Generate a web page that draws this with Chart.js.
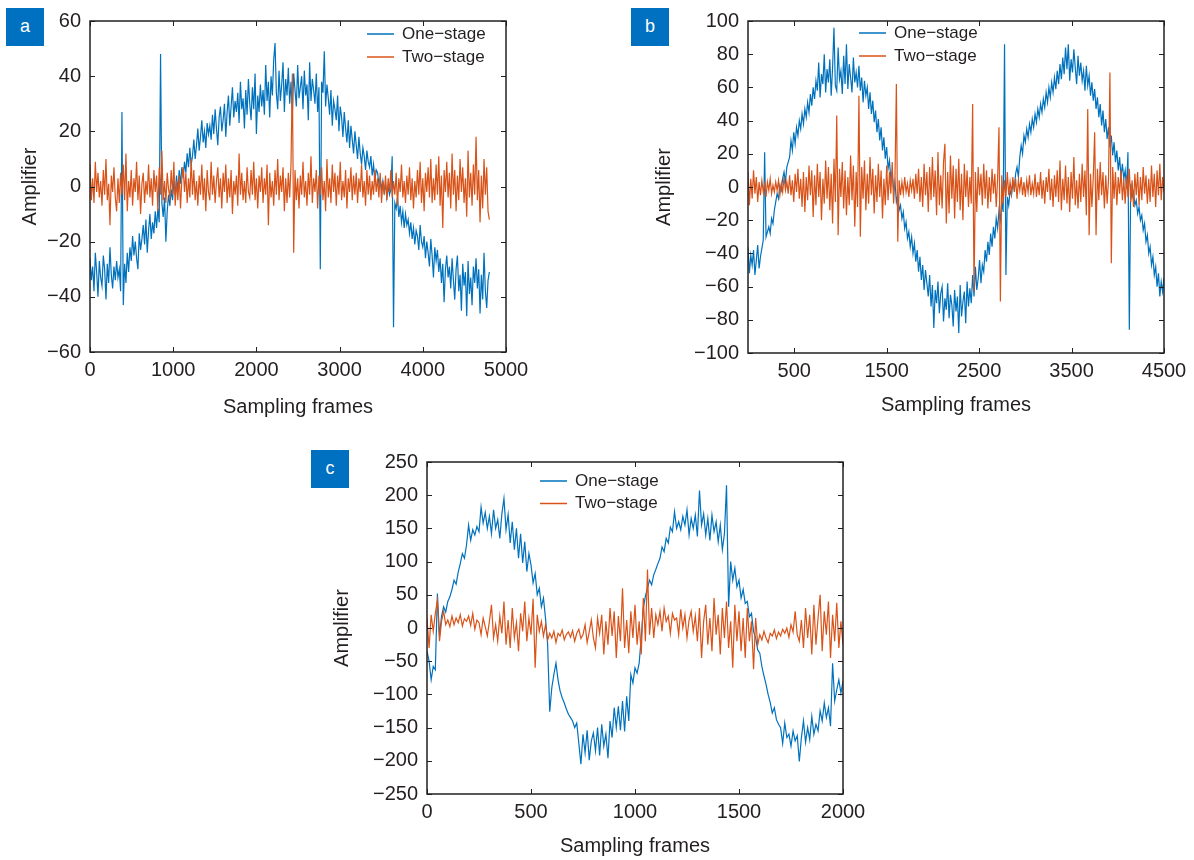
<!DOCTYPE html>
<html>
<head>
<meta charset="utf-8">
<script src="https://cdn.jsdelivr.net/npm/chart.js@4/dist/chart.umd.min.js"></script>
<style>
  html, body { margin:0; padding:0; background:#fff; }
  body { width:1194px; height:860px; position:relative; overflow:hidden; font-family:"Liberation Sans", Arial, sans-serif; }
  canvas { position:absolute; }
  .tag { position:absolute; width:38px; height:38px; background:#0070C0; color:#fff; font-size:18px; line-height:36px; text-align:center; }
</style>
</head>
<body>
<div class="tag" style="left:6px;top:8px;">a</div>
<div class="tag" style="left:631px;top:8px;">b</div>
<div class="tag" style="left:311px;top:450px;">c</div>
<canvas id="ca" width="540" height="430" style="left:0px;top:0px;"></canvas>
<canvas id="cb" width="554" height="430" style="left:640px;top:0px;"></canvas>
<canvas id="cc" width="580" height="420" style="left:300px;top:440px;"></canvas>
<script>
// ---------------- DATA ----------------
const seriesNames = ['One\u2212stage', 'Two\u2212stage'];
const xLabel = 'Sampling frames';
const yLabel = 'Amplifier';

// Panel a (sampling step between stored frames)
const stepA = 16;
const oneStageA = [
 -26,-34,-29,-38,-24,-31,-40,-27,-33,-36,
 -25,-30,-41,-28,-35,-22,-32,-37,-29,-34,
 -27,-33,-30,-38,27,-43,-28,-35,-24,-31,
 -22,-27,-18,-25,-20,-26,-30,-17,-23,-19,
 -14,-21,-12,-24,-16,-10,-19,-13,-17,-9,
 -15,-8,-13,48,-6,-11,-4,-20,-9,-3,
 -7,-1,-5,2,-3,4,-2,6,1,7,
 3,9,5,12,7,14,8,11,17,10,
 15,21,13,18,24,16,20,14,23,19,
 22,17,26,19,28,21,15,25,29,20,
 24,30,18,27,33,22,29,36,25,31,
 27,34,23,38,28,32,21,35,26,39,
 30,24,36,28,41,19,33,27,37,29,
 35,26,44,31,38,25,40,33,46,52,
 34,28,42,31,37,45,27,39,33,43,
 30,38,26,41,35,29,44,32,36,40,
 28,42,33,37,24,45,31,39,35,30,
 41,27,36,-30,38,34,49,29,37,32,
 26,35,22,31,28,24,33,20,29,25,
 18,27,21,16,24,14,22,17,12,20,
 15,10,18,12,8,14,11,6,13,9,
 7,11,4,8,2,6,5,1,3,-1,
 2,-2,1,-4,0,-3,-1,11,-51,-6,
 -8,-4,-11,-7,-13,-9,-15,-10,-14,-12,
 -17,-13,-19,-15,-21,-16,-18,-23,-14,-20,
 -22,-18,-26,-20,-24,-29,-19,-25,-33,-22,
 -27,-23,-31,-26,-35,-28,-42,-30,-25,-33,
 -29,-37,-26,-34,-41,-30,-25,-38,-32,-45,
 -28,-36,-31,-47,-27,-39,-33,-43,-29,-35,
 -26,-37,-30,-46,-32,-41,-24,-38,-44,-34,
 -31
];
const twoStageA = [
 8,-5,3,-6,9,-2,5,-4,2,-7,
 6,-3,10,-5,1,-14,4,-2,7,-4,
 -9,3,-6,5,-3,8,-5,12,-9,2,
 -4,6,-7,3,-2,9,-5,4,-10,1,
 5,-6,2,-3,8,-4,3,-7,6,-2,
 4,-9,7,-3,13,-5,2,-6,5,-1,
 -4,6,-3,9,-7,2,-5,4,-8,3,
 7,-2,5,-6,3,-4,10,-3,6,-5,
 2,-7,4,-3,8,-5,3,-9,6,-2,
 -5,9,-3,4,-6,2,7,-4,3,-8,
 5,-2,8,-6,3,-4,6,-10,2,-3,
 4,-7,12,-3,5,-5,2,-6,7,-2,
 -4,6,-3,9,-5,3,-8,4,-2,7,
 -6,3,-3,8,-14,5,-4,2,-7,6,
 -3,10,-5,4,-2,7,-9,3,-6,5,
 -4,8,41,-24,6,-5,3,-8,4,-3,
 9,-4,2,-7,5,-3,11,-6,3,-2,
 6,-8,4,-3,7,-5,2,-9,10,-4,
 3,-6,8,-2,5,-7,4,-3,9,-5,
 2,-4,6,-8,3,-2,7,-5,4,-3,
 5,-6,3,-2,8,-4,2,-7,6,-3,
 4,-5,2,-3,6,-2,3,-4,5,-6,
 2,-3,4,-5,3,-2,6,-4,2,-3,
 5,-7,3,-2,8,-4,2,-6,4,-3,
 7,-5,3,-8,2,-4,6,-3,9,-6,
 3,-9,5,-2,7,-4,10,-6,3,-5,
 8,-3,11,-7,4,-15,6,-2,9,-4,
 5,-8,12,-3,6,-9,4,-5,10,-2,
 7,-6,3,-11,13,-4,5,-7,8,-3,
 18,-5,6,-13,4,-8,10,-3,7,-9,
 -12
];
const xTicksA = [0,1000,2000,3000,4000,5000];
const yTicksA = [-60,-40,-20,0,20,40,60];

// Panel b
const stepB = 15;
const oneStageB = [
 -36,-52,-41,-47,-38,-53,-44,-35,-49,-42,
 -37,-32,21,-30,-27,-24,-28,-19,-22,-14,
 -9,-4,-7,1,-2,5,9,3,12,15,
 18,28,22,33,26,36,31,40,35,44,
 38,47,42,51,45,56,49,60,53,64,
 58,75,54,68,62,80,57,71,63,77,
 55,72,96,61,58,84,65,70,56,79,
 62,86,59,74,66,57,78,63,69,60,
 73,58,66,51,64,55,60,47,57,44,
 52,39,46,33,41,28,36,22,30,17,
 24,11,16,5,9,-2,3,-9,-5,-14,
 -11,-19,-15,-25,-21,-31,-27,-36,-30,-40,
 -34,-45,-38,-51,-42,-56,-47,-62,-50,-58,
 -66,-53,-72,-59,-85,-62,-70,-57,-76,-64,
 -60,-81,-67,-74,-58,-79,-65,-71,-84,-62,
 -75,-66,-88,-59,-78,-69,-63,-82,-57,-72,
 -61,-70,-53,-66,-48,-62,-55,-44,-58,-47,
 -51,-38,-45,-33,-41,-28,-36,-24,-31,-19,
 -25,-14,-20,-9,-15,86,-53,-6,-11,-2,
 -5,3,-1,8,12,6,18,25,20,31,
 27,35,30,38,33,41,36,44,39,47,
 42,50,45,53,48,57,51,60,54,63,
 57,66,59,70,62,74,65,78,68,84,
 71,86,64,77,69,83,72,62,79,67,
 75,64,70,58,73,61,67,55,63,52,
 59,47,54,42,50,37,46,33,41,29,
 36,24,31,19,27,15,22,10,18,6,
 14,5,10,-1,21,-86,2,-6,-3,-11,
 -8,-16,-12,-20,-17,-26,-22,-33,-29,-40,
 -36,-47,-42,-53,-48,-60,-52,-66,-57,-63,
 -55
];
const twoStageB = [
 9,-11,5,-7,10,-4,6,-9,3,-5,
 4,-3,2,-6,3,-2,5,-4,1,-3,
 3,-2,4,-5,2,-3,6,-2,3,-4,
 7,-5,4,-9,8,-3,11,-7,5,-12,
 9,-15,6,-8,13,-5,10,-18,7,-11,
 14,-6,9,-20,5,-10,16,-7,12,-14,
 8,-22,17,-9,43,-29,11,-6,15,-13,
 10,-17,6,-11,19,-8,13,-24,9,-12,
 55,-30,12,-7,16,-14,8,-10,18,-5,
 11,-16,7,-9,14,-6,10,-19,5,-11,
 13,-8,9,-4,15,-10,6,62,-33,4,
 -5,3,-4,6,-3,2,-6,4,-2,5,
 -7,8,-4,11,-9,6,-12,14,-5,9,
 -15,12,-8,18,-6,10,-17,21,-11,7,
 -13,15,26,-22,9,-16,19,-7,13,-19,
 11,-9,17,-14,8,-20,14,-6,10,-12,
 6,-10,50,-63,9,-15,12,-5,8,-11,
 14,-7,10,-13,6,-9,11,-4,8,-12,
 5,36,-69,7,-10,4,-6,9,-5,3,
 -4,6,-3,5,-7,4,-2,6,-5,3,
 -6,4,-3,7,-5,2,-4,8,-6,3,
 -5,9,-7,4,-10,6,-3,11,-8,5,
 -12,7,-6,10,-9,16,-14,5,-8,13,
 -10,6,-15,9,-7,18,-11,4,-13,8,
 -9,14,-6,10,-17,47,-29,8,-12,6,
 33,-29,11,-8,15,-5,9,-13,7,-10,
 5,69,-46,12,-7,9,-11,6,-4,10,
 -8,5,-10,7,-6,11,-9,4,-12,8,
 -5,9,-11,6,-8,12,-4,7,-10,5,
 -9,13,-6,8,-12,10,-5,14,-8,6,
 -3
];
const xTicksB = [500,1500,2500,3500,4500];
const yTicksB = [-100,-80,-60,-40,-20,0,20,40,60,80,100];

// Panel c
const stepC = 10;
const oneStageC = [
 -35,-50,-78,-58,-63,52,-12,18,32,24,
 40,47,58,72,66,84,97,112,105,125,
 155,132,148,140,153,145,182,158,174,150,
 168,142,178,150,163,135,172,195,148,171,
 128,160,118,150,105,142,98,130,85,112,
 95,68,82,50,60,32,45,14,-25,-126,
 -90,-70,-53,-78,-95,-105,-113,-122,-130,-135,
 -140,-150,-143,-174,-205,-160,-188,-154,-199,-170,
 -158,-185,-150,-192,-145,-178,-160,-196,-140,-165,
 -120,-150,-118,-154,-110,-156,-103,-140,-70,-83,
 -60,-68,-53,-15,30,48,60,72,65,80,
 88,97,105,122,115,135,128,152,145,175,
 150,160,148,168,155,178,140,165,150,170,
 138,207,155,172,140,165,132,170,145,160,
 130,155,118,142,215,32,100,72,90,62,
 72,45,58,37,40,17,22,-5,-15,-33,
 -38,-58,-72,-85,-100,-112,-128,-120,-138,-145,
 -150,-174,-143,-165,-160,-178,-155,-170,-162,-201,
 -165,-140,-172,-150,-168,-133,-160,-145,-155,-125,
 -140,-113,-135,-120,-148,-53,-110,-93,-78,-98,
 -80
];
const twoStageC = [
 15,-30,20,-5,22,42,-20,10,25,5,
 12,2,18,5,15,8,20,3,14,10,
 18,4,22,-2,12,8,-10,15,2,-12,
 10,35,-15,5,-20,18,-8,40,-25,12,
 -30,30,-15,8,-35,22,-5,40,-20,15,
 -10,44,-60,20,-5,10,-12,5,-18,-8,
 -15,-5,-22,-8,-12,-3,-18,-10,-6,-14,
 -4,-20,-8,-2,-16,-10,5,-22,-6,12,
 -15,-30,15,-8,20,-40,10,-25,30,-12,
 25,-45,18,-20,60,-30,12,-38,25,-15,
 35,-25,10,-40,45,-20,88,-10,30,-15,
 20,5,25,-5,30,10,18,-8,22,12,
 15,-10,28,0,20,-15,12,25,-5,18,
 -20,30,-45,10,35,-25,15,-35,45,-10,
 20,-40,30,-15,40,-30,10,-60,35,-20,
 25,-35,15,-45,30,-20,10,-62,15,-25,
 -10,-18,-5,-15,-22,-8,-12,-3,-16,-6,
 -12,-2,-8,0,-14,5,-6,25,-10,-20,
 12,-30,30,-15,20,-40,35,-25,15,50,
 -35,25,-10,40,-45,20,-20,38,-30,10,
 -25
];
const xTicksC = [0,500,1000,1500,2000];
const yTicksC = [-250,-200,-150,-100,-50,0,50,100,150,200,250];

// ---------------- STYLE / RENDER ----------------
const BLUE = '#0072BD', ORANGE = '#D95319', INK = '#231F20';
const FONT = '"Liberation Sans", Arial, Helvetica, sans-serif';
Chart.defaults.font.family = FONT;
Chart.defaults.color = INK;

const toPoints = (arr, step) => arr.map((v, i) => ({x: i * step, y: v}));
const fmt = v => String(v).replace('-', '\u2212');

const framePlugin = {
  id: 'frame',
  afterDatasetsDraw(chart, args, opts) {
    const {ctx, chartArea: ca, scales} = chart;
    ctx.save();
    ctx.strokeStyle = INK;
    ctx.lineWidth = 1;
    const L = 5;
    ctx.beginPath();
    scales.x.ticks.forEach(t => {
      const px = Math.round(scales.x.getPixelForValue(t.value)) + 0.5;
      ctx.moveTo(px, ca.bottom); ctx.lineTo(px, ca.bottom - L);
      ctx.moveTo(px, ca.top); ctx.lineTo(px, ca.top + L);
    });
    scales.y.ticks.forEach(t => {
      const py = Math.round(scales.y.getPixelForValue(t.value)) + 0.5;
      ctx.moveTo(ca.left, py); ctx.lineTo(ca.left + L, py);
      ctx.moveTo(ca.right, py); ctx.lineTo(ca.right - L, py);
    });
    ctx.stroke();
    ctx.lineWidth = 1.5;
    ctx.strokeRect(ca.left, ca.top, ca.right - ca.left, ca.bottom - ca.top);
    // legend
    const lg = opts.legend;
    chart.data.datasets.forEach((ds, i) => {
      const y = ca.top + lg.dy + i * lg.row;
      const x = ca.left + lg.dx;
      ctx.strokeStyle = ds.borderColor;
      ctx.lineWidth = 1.5;
      ctx.beginPath(); ctx.moveTo(x, y); ctx.lineTo(x + 27, y); ctx.stroke();
      ctx.fillStyle = INK;
      ctx.font = '17px ' + FONT;
      ctx.textBaseline = 'middle';
      ctx.textAlign = 'left';
      ctx.fillText(ds.label, x + 35, y);
    });
    ctx.restore();
  }
};

function makeChart(id, cfg) {
  const tickFont = {size: 20};
  return new Chart(document.getElementById(id), {
    type: 'line',
    data: {
      datasets: [
        {label: seriesNames[0], data: toPoints(cfg.one, cfg.step), borderColor: BLUE, borderWidth: 1.2, pointRadius: 0, tension: 0, order: 2},
        {label: seriesNames[1], data: toPoints(cfg.two, cfg.step), borderColor: ORANGE, borderWidth: 1.2, pointRadius: 0, tension: 0, order: 1}
      ]
    },
    options: {
      responsive: false,
      animation: false,
      events: [],
      layout: {padding: {left: 0, top: cfg.padTop, right: cfg.padRight, bottom: 0}},
      plugins: {legend: {display: false}, tooltip: {enabled: false}, frame: {legend: cfg.legend}},
      scales: {
        x: {
          type: 'linear', min: 0, max: cfg.xMax,
          grid: {display: false, drawTicks: false}, border: {display: false},
          afterBuildTicks: s => { s.ticks = cfg.xTicks.map(v => ({value: v})); },
          afterFit: s => { s.height = cfg.xH; },
          ticks: {font: tickFont, color: INK, padding: cfg.xTickPad, maxRotation: 0, autoSkip: false, callback: fmt},
          title: {display: true, text: xLabel, font: {size: 20}, color: INK, padding: {top: 0, bottom: cfg.xTitlePad}}
        },
        y: {
          type: 'linear', min: cfg.yTicks[0], max: cfg.yTicks[cfg.yTicks.length - 1],
          grid: {display: false, drawTicks: false}, border: {display: false},
          afterBuildTicks: s => { s.ticks = cfg.yTicks.map(v => ({value: v})); },
          afterFit: s => { s.width = cfg.yW; },
          ticks: {font: tickFont, color: INK, padding: 9, autoSkip: false, callback: fmt},
          title: {display: true, text: yLabel, font: {size: 20}, color: INK, padding: {top: cfg.yTitlePad, bottom: 0}}
        }
      }
    },
    plugins: [framePlugin]
  });
}

makeChart('ca', {one: oneStageA, two: twoStageA, step: stepA, xTicks: xTicksA, yTicks: yTicksA, xMax: 5000,
  padTop: 20, padRight: 34, xH: 78, yW: 90, xTickPad: 6, xTitlePad: 11, yTitlePad: 18,
  legend: {dx: 277, dy: 13, row: 23}});
makeChart('cb', {one: oneStageB, two: twoStageB, step: stepB, xTicks: xTicksB, yTicks: yTicksB, xMax: 4500,
  padTop: 20, padRight: 30, xH: 77, yW: 108, xTickPad: 6, xTitlePad: 13, yTitlePad: 12,
  legend: {dx: 111, dy: 12, row: 23}});
makeChart('cc', {one: oneStageC, two: twoStageC, step: stepC, xTicks: xTicksC, yTicks: yTicksC, xMax: 2000,
  padTop: 22, padRight: 37, xH: 66, yW: 127, xTickPad: 6, xTitlePad: 1.3, yTitlePad: 30,
  legend: {dx: 113, dy: 19, row: 22.5}});
</script>
</body>
</html>
